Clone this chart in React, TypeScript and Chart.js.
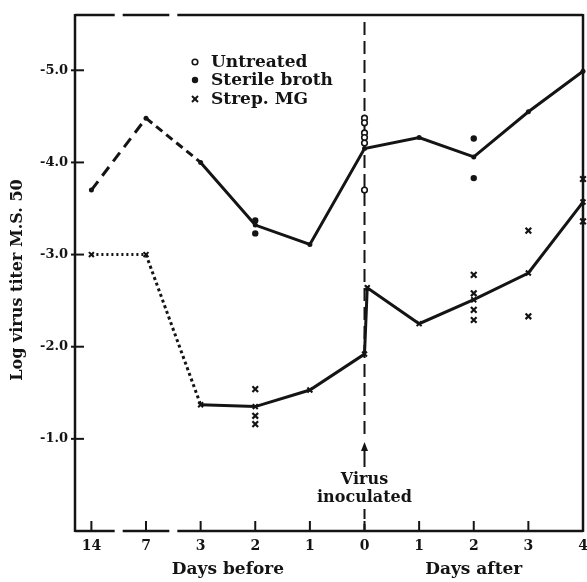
import React, { useEffect, useRef } from 'react';
import { Chart, registerables } from 'chart.js';

Chart.register(...registerables);

const FONT = "'DejaVu Serif', 'Liberation Serif', serif";
const INK = '#141414';

// Category axis: days before / after virus inoculation (evenly spaced positions)
const xLabels = ['14', '7', '3', '2', '1', '0', '1', '2', '3', '4'];
const yTickValues = [1, 2, 3, 4, 5];
const inoculationIndex = 5;

// Mean line for untreated / sterile broth plants
const meanX = [0, 1, 2, 3, 4, 5, 6, 7, 8, 9];
const meanY = [3.7, 4.48, 4.0, 3.32, 3.11, 4.15, 4.27, 4.06, 4.55, 4.99];

// Mean line for Strep MG plants
const strepLineX = [0, 1, 2, 3, 4, 5, 5.05, 6, 7, 8, 9];
const strepLineY = [3.0, 3.0, 1.37, 1.35, 1.53, 1.92, 2.64, 2.25, 2.51, 2.8, 3.57];

// Individual readings
const untreatedX = [5, 5, 5, 5, 5, 5];
const untreatedY = [4.48, 4.43, 4.32, 4.27, 4.21, 3.7];
const brothX = [3, 3, 7, 7];
const brothY = [3.37, 3.23, 4.26, 3.83];
const strepX = [3, 3, 3, 7, 7, 7, 7, 8, 8, 9, 9];
const strepY = [1.54, 1.25, 1.16, 2.78, 2.58, 2.4, 2.29, 3.26, 2.33, 3.82, 3.36];

const legendItems = ['Untreated', 'Sterile broth', 'Strep. MG'];

const toPts = (xs: number[], ys: number[]) => xs.map((x, i) => ({ x, y: ys[i] }));

export default function App() {
  const ref = useRef<HTMLCanvasElement>(null);

  useEffect(() => {
    const canvas = ref.current!;

    const framePlugin = {
      id: 'frame',
      beforeDatasetsDraw(chart: any) {
        const { ctx, chartArea: a, scales } = chart;
        const xs = scales.x;
        const ys = scales.y;
        const line = (x1: number, y1: number, x2: number, y2: number) => {
          ctx.beginPath();
          ctx.moveTo(x1, y1);
          ctx.lineTo(x2, y2);
          ctx.stroke();
        };
        ctx.save();
        ctx.strokeStyle = INK;
        ctx.fillStyle = INK;
        ctx.lineCap = 'butt';
        ctx.lineWidth = 2.5;
        line(a.left, a.top - 1, a.left, a.bottom + 1);
        line(a.right, a.top - 1, a.right, a.bottom + 1);
        const b1 = xs.getPixelForValue(0.5);
        const b2 = xs.getPixelForValue(1.5);
        const gap = 4;
        const segs = [
          [a.left, b1 - gap],
          [b1 + gap, b2 - gap],
          [b2 + gap, a.right],
        ];
        [a.top, a.bottom].forEach((yy) => segs.forEach(([s, e]) => line(s, yy, e, yy)));
        // ticks and x tick labels
        ctx.lineWidth = 2;
        ctx.font = `bold 14px ${FONT}`;
        ctx.textAlign = 'center';
        ctx.textBaseline = 'middle';
        xLabels.forEach((lab, i) => {
          const px = xs.getPixelForValue(i);
          line(px, a.bottom, px, a.bottom - 10);
          ctx.fillText(lab, px, a.bottom + 15);
        });
        yTickValues.forEach((v) => {
          const py = ys.getPixelForValue(v);
          line(a.left - 4, py, a.left + 9, py);
        });
        // inoculation line
        const x0 = xs.getPixelForValue(inoculationIndex);
        const tipY = a.bottom - 89;
        ctx.setLineDash([13, 6]);
        line(x0, a.top + 7, x0, tipY - 7);
        ctx.setLineDash([]);
        line(x0, tipY + 4, x0, a.bottom - 64);
        ctx.beginPath();
        ctx.moveTo(x0, tipY);
        ctx.lineTo(x0 - 3.5, tipY + 9);
        ctx.lineTo(x0 + 3.5, tipY + 9);
        ctx.closePath();
        ctx.fill();
        ctx.setLineDash([10, 5]);
        line(x0, a.bottom - 22, x0, a.bottom);
        ctx.setLineDash([]);
        ctx.font = `bold 16px ${FONT}`;
        ctx.fillText('Virus', x0, a.bottom - 51);
        ctx.fillText('inoculated', x0, a.bottom - 33);

        // axis group titles
        ctx.font = `bold 17px ${FONT}`;
        ctx.fillText('Days before', (xs.getPixelForValue(2) + xs.getPixelForValue(3)) / 2, a.bottom + 39);
        ctx.fillText('Days after', xs.getPixelForValue(7), a.bottom + 39);

        // y title
        ctx.save();
        ctx.translate(18, (a.top + a.bottom) / 2 + 7);
        ctx.rotate(-Math.PI / 2);
        ctx.font = `bold 16px ${FONT}`;
        ctx.fillText('Log virus titer M.S. 50', 0, 0);
        ctx.restore();

        // legend
        const lx = a.left + 120;
        const ly = [a.top + 47, a.top + 65, a.top + 84];
        ctx.lineWidth = 1.6;
        ctx.beginPath();
        ctx.arc(lx, ly[0], 2.8, 0, Math.PI * 2);
        ctx.stroke();
        ctx.beginPath();
        ctx.arc(lx, ly[1], 3.2, 0, Math.PI * 2);
        ctx.fill();
        ctx.lineWidth = 2;
        line(lx - 3, ly[2] - 3, lx + 3, ly[2] + 3);
        line(lx - 3, ly[2] + 3, lx + 3, ly[2] - 3);
        ctx.font = `bold 17px ${FONT}`;
        ctx.textAlign = 'left';
        legendItems.forEach((t, i) => ctx.fillText(t, lx + 16, ly[i] + 1));
        ctx.restore();
      },
    };

    const dashFor = (first: number[], second: number[]) => (c: any) =>
      c.p0DataIndex === 0 ? first : c.p0DataIndex === 1 ? second : undefined;

    const chart = new Chart(canvas, {
      type: 'scatter',
      data: {
        datasets: [
          {
            label: 'Untreated / broth mean',
            data: toPts(meanX, meanY),
            showLine: true,
            borderColor: INK,
            backgroundColor: INK,
            borderWidth: 3,
            pointRadius: 2.5,
            pointBorderWidth: 0,
            clip: false,
            segment: { borderDash: dashFor([11, 7], [8, 5]) },
          },
          {
            label: 'Strep. MG mean',
            data: toPts(strepLineX, strepLineY),
            showLine: true,
            borderColor: INK,
            backgroundColor: INK,
            borderWidth: 3,
            pointStyle: 'crossRot',
            pointRadius: 3.5,
            pointBorderWidth: 2,
            clip: false,
            segment: { borderDash: dashFor([2, 3], [3, 3]) },
          },
          {
            label: 'Untreated',
            data: toPts(untreatedX, untreatedY),
            showLine: false,
            borderColor: INK,
            backgroundColor: '#ffffff',
            pointStyle: 'circle',
            pointRadius: 2.8,
            pointBorderWidth: 1.6,
          },
          {
            label: 'Sterile broth',
            data: toPts(brothX, brothY),
            showLine: false,
            borderColor: INK,
            backgroundColor: INK,
            pointStyle: 'circle',
            pointRadius: 3.2,
            pointBorderWidth: 0,
          },
          {
            label: 'Strep. MG',
            data: toPts(strepX, strepY),
            showLine: false,
            borderColor: INK,
            backgroundColor: INK,
            pointStyle: 'crossRot',
            pointRadius: 4,
            pointBorderWidth: 2.2,
            clip: false,
          },
        ],
      },
      plugins: [framePlugin],
      options: {
        responsive: false,
        animation: false,
        layout: { autoPadding: false, padding: { left: 10, top: 15, right: 4, bottom: 0 } },
        plugins: {
          legend: { display: false },
          tooltip: { enabled: false },
        },
        scales: {
          x: {
            type: 'linear',
            min: -0.3,
            max: 9,
            grid: { display: false, drawTicks: false },
            border: { display: false },
            afterBuildTicks: (s: any) => {
              s.ticks = xLabels.map((_, i) => ({ value: i }));
            },
            afterFit: (s: any) => {
              s.height = 51;
            },
            ticks: { display: false },
          },
          y: {
            type: 'linear',
            min: 0,
            max: 5.6,
            grid: { display: false, drawTicks: false },
            border: { display: false },
            afterBuildTicks: (s: any) => {
              s.ticks = yTickValues.map((v) => ({ value: v }));
            },
            afterFit: (s: any) => {
              s.width = 65;
            },
            ticks: {
              padding: 7,
              color: INK,
              font: { family: FONT, size: 13, weight: 'bold' },
              callback: (v: any) => '-' + Number(v).toFixed(1),
            },
          },
        },
      },
    });
    return () => chart.destroy();
  }, []);

  return (
    <div style={{ position: 'absolute', left: 0, top: 0, width: 587, height: 582, background: '#fff' }}>
      <canvas ref={ref} width={587} height={582} style={{ display: 'block' }} />
    </div>
  );
}
